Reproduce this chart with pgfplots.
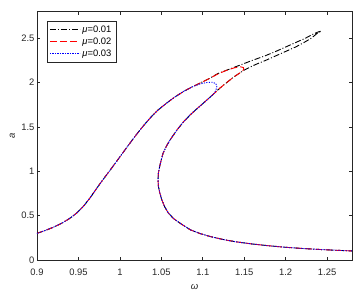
\documentclass[border=0pt]{standalone}
\usepackage{fontspec}
\setmainfont{Liberation Sans}
\usepackage{pgfplots}
\pgfplotsset{compat=1.18}
\definecolor{axgray}{rgb}{0.15,0.15,0.15}
\begin{document}
\begin{tikzpicture}
\useasboundingbox (-37pt,-37pt) rectangle (327pt,260pt);
\begin{axis}[
  scale only axis, width=315pt, height=248.5pt,
  at={(0pt,0pt)}, anchor=south west,
  xmin=0.9, xmax=1.28, ymin=0, ymax=2.8,
  xtick={0.9,0.95,1,1.05,1.1,1.15,1.2,1.25},
  xticklabels={0.9,0.95,1,1.05,1.1,1.15,1.2,1.25},
  ytick={0,0.5,1,1.5,2,2.5},
  yticklabels={0,0.5,1,1.5,2,2.5},
  tick align=inside, major tick length=3.2pt,
  axis line style={axgray, line width=0.7pt},
  every tick/.style={axgray, line width=0.6pt},
  tick label style={font=\fontsize{9.4}{10}\selectfont, text=axgray},
  xticklabel style={yshift=-5pt},
  yticklabel style={xshift=1pt},
  xlabel={\textit{ω}}, ylabel={\textit{a}},
  label style={font=\fontsize{9.5}{10}\selectfont, text=axgray},
  xlabel style={at={(axis description cs:0.5,-0.1074)}, anchor=center},
  ylabel style={at={(axis description cs:-0.0784,0.5)}, anchor=center},
  legend style={at={(0.0308,0.963)}, anchor=north west, draw=axgray, line width=0.6pt,
    fill=white, font=\fontsize{9.4}{10}\selectfont, inner xsep=2.5pt, inner ysep=2.5pt,
    row sep=0pt, nodes={inner sep=2pt}, cells={anchor=west}},
  legend image code/.code={\draw[#1] (0pt,0pt) -- (30pt,0pt);},
]
\addplot[black, line width=0.9pt, dash pattern=on 6pt off 2pt on 1pt off 2pt] coordinates {
(0.900,0.300) (0.910,0.333) (0.920,0.370) (0.930,0.415) (0.940,0.472) (0.948,0.530)
(0.956,0.605) (0.964,0.700) (0.970,0.780) (0.976,0.860) (0.982,0.935) (0.988,1.010)
(0.995,1.098) (1.002,1.188) (1.009,1.277) (1.016,1.365) (1.023,1.450) (1.030,1.530)
(1.037,1.605) (1.046,1.690) (1.056,1.765) (1.066,1.835) (1.077,1.900) (1.087,1.950)
(1.097,1.995) (1.107,2.040) (1.118,2.100) (1.132,2.150) (1.146,2.200) (1.160,2.250)
(1.175,2.300) (1.188,2.350) (1.200,2.400) (1.212,2.450) (1.224,2.500) (1.234,2.550)
(1.240,2.572) (1.243,2.580) (1.2405,2.566) (1.2375,2.550) (1.231,2.500) (1.222,2.450)
(1.212,2.400) (1.200,2.350) (1.188,2.300) (1.176,2.250) (1.163,2.200) (1.150,2.140)
(1.137,2.060) (1.121,1.940)
(1.110,1.845) (1.101,1.770) (1.093,1.705) (1.085,1.637) (1.077,1.560) (1.069,1.467)
(1.064,1.400) (1.060,1.345) (1.056,1.280) (1.052,1.200) (1.050,1.130) (1.048,1.055)
(1.0465,0.980) (1.046,0.903) (1.0465,0.830) (1.048,0.760) (1.0505,0.680) (1.054,0.600)
(1.0586,0.527) (1.065,0.465) (1.0727,0.414) (1.085,0.340) (1.097,0.297) (1.110,0.262)
(1.125,0.230) (1.140,0.205) (1.160,0.180) (1.180,0.160) (1.200,0.143) (1.220,0.130)
(1.240,0.119) (1.260,0.110) (1.280,0.102)
};
\addlegendentry{\textit{μ}=0.01}
\addplot[red, line width=0.9pt, dash pattern=on 7pt off 3pt] coordinates {
(0.900,0.300) (0.910,0.333) (0.920,0.370) (0.930,0.415) (0.940,0.472) (0.948,0.530)
(0.956,0.605) (0.964,0.700) (0.970,0.780) (0.976,0.860) (0.982,0.935) (0.988,1.010)
(0.995,1.098) (1.002,1.188) (1.009,1.277) (1.016,1.365) (1.023,1.450) (1.030,1.530)
(1.037,1.605) (1.046,1.690) (1.056,1.765) (1.066,1.835) (1.077,1.900) (1.087,1.950)
(1.097,1.995) (1.107,2.040) (1.118,2.095) (1.128,2.135) (1.138,2.165) (1.145,2.178)
(1.149,2.168) (1.1495,2.150) (1.148,2.130) (1.145,2.110) (1.137,2.060) (1.121,1.940)
(1.110,1.845) (1.101,1.770) (1.093,1.705) (1.085,1.637) (1.077,1.560) (1.069,1.467)
(1.064,1.400) (1.060,1.345) (1.056,1.280) (1.052,1.200) (1.050,1.130) (1.048,1.055)
(1.0465,0.980) (1.046,0.903) (1.0465,0.830) (1.048,0.760) (1.0505,0.680) (1.054,0.600)
(1.0586,0.527) (1.065,0.465) (1.0727,0.414) (1.085,0.340) (1.097,0.297) (1.110,0.262)
(1.125,0.230) (1.140,0.205) (1.160,0.180) (1.180,0.160) (1.200,0.143) (1.220,0.130)
(1.240,0.119) (1.260,0.110) (1.280,0.102)
};
\addlegendentry{\textit{μ}=0.02}
\addplot[blue, line width=0.9pt, dash pattern=on 1.2pt off 1.3pt] coordinates {
(0.900,0.300) (0.910,0.333) (0.920,0.370) (0.930,0.415) (0.940,0.472) (0.948,0.530)
(0.956,0.605) (0.964,0.700) (0.970,0.780) (0.976,0.860) (0.982,0.935) (0.988,1.010)
(0.995,1.098) (1.002,1.188) (1.009,1.277) (1.016,1.365) (1.023,1.450) (1.030,1.530)
(1.037,1.605) (1.046,1.690) (1.056,1.765) (1.066,1.835) (1.077,1.900) (1.087,1.950)
(1.097,1.985) (1.105,2.000) (1.111,2.003) (1.1155,1.990) (1.117,1.960) (1.116,1.920)
(1.114,1.880)
(1.110,1.845) (1.101,1.770) (1.093,1.705) (1.085,1.637) (1.077,1.560) (1.069,1.467)
(1.064,1.400) (1.060,1.345) (1.056,1.280) (1.052,1.200) (1.050,1.130) (1.048,1.055)
(1.0465,0.980) (1.046,0.903) (1.0465,0.830) (1.048,0.760) (1.0505,0.680) (1.054,0.600)
(1.0586,0.527) (1.065,0.465) (1.0727,0.414) (1.085,0.340) (1.097,0.297) (1.110,0.262)
(1.125,0.230) (1.140,0.205) (1.160,0.180) (1.180,0.160) (1.200,0.143) (1.220,0.130)
(1.240,0.119) (1.260,0.110) (1.280,0.102)
};
\addlegendentry{\textit{μ}=0.03}
\end{axis}
\end{tikzpicture}
\end{document}
